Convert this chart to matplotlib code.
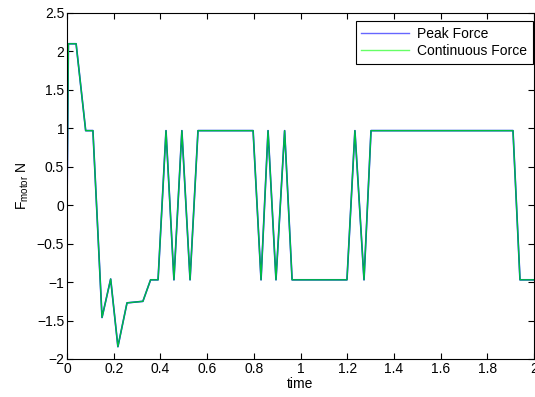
import numpy as np
import matplotlib
matplotlib.use("Agg")
import matplotlib.pyplot as plt

plt.rcParams["font.family"] = ["Liberation Sans", "DejaVu Sans"]
plt.rcParams["mathtext.fontset"] = "custom"
plt.rcParams["mathtext.rm"] = "Liberation Sans"
plt.rcParams["mathtext.it"] = "Liberation Sans:italic"

# time samples and force values
time = [0.0, 0.006, 0.039, 0.080, 0.111, 0.150, 0.187, 0.218, 0.257, 0.325,
        0.358, 0.390, 0.424, 0.458, 0.492, 0.527, 0.561, 0.797, 0.831, 0.861,
        0.895, 0.932, 0.964, 1.199, 1.233, 1.272, 1.302, 1.910, 1.940, 2.0]
peak_force = [0.0, 2.1, 2.1, 0.97, 0.97, -1.46, -0.96, -1.84, -1.27, -1.25,
              -0.97, -0.97, 0.97, -0.97, 0.97, -0.97, 0.97, 0.97, -0.97, 0.97,
              -0.97, 0.97, -0.97, -0.97, 0.97, -0.97, 0.97, 0.97, -0.97, -0.97]
continuous_force = list(peak_force)

xticks = [0, 0.2, 0.4, 0.6, 0.8, 1, 1.2, 1.4, 1.6, 1.8, 2]
xlabels = ["0", "0.2", "0.4", "0.6", "0.8", "1", "1.2", "1.4", "1.6", "1.8", "2"]
yticks = [-2, -1.5, -1, -0.5, 0, 0.5, 1, 1.5, 2, 2.5]
ylabels = ["\u22122", "\u22121.5", "\u22121", "\u22120.5", "0", "0.5", "1", "1.5", "2", "2.5"]

fig = plt.figure(figsize=(5.35, 3.97), dpi=100)
ax = fig.add_axes([67 / 535, 1 - 359 / 397, 467 / 535, 346 / 397])

ax.plot(time, peak_force, color="#0000ff", lw=1.2, label="Peak Force")
ax.plot(time, continuous_force, color="#00ff00", lw=1.0, alpha=0.75,
        label="Continuous Force")

ax.set_xlim(0, 2)
ax.set_ylim(-2, 2.5)
ax.set_xticks(xticks)
ax.set_xticklabels(xlabels)
ax.set_yticks(yticks)
ax.set_yticklabels(ylabels)
ax.tick_params(direction="in", top=True, right=True, length=4, width=0.8,
               labelsize=10, pad=2)
for s in ax.spines.values():
    s.set_linewidth(0.8)

ax.set_xlabel("time", fontsize=10, labelpad=1)
ax.set_ylabel(r"F$_{\rm motor}$ N", fontsize=10, labelpad=4)

leg = ax.legend(loc="upper right", bbox_to_anchor=(0.997, 0.977), fontsize=10,
                fancybox=False, framealpha=1, edgecolor="black",
                handlelength=3.4, borderaxespad=0, borderpad=0.4,
                labelspacing=0.25, handletextpad=0.6)
leg.get_frame().set_linewidth(0.8)
for line in leg.get_lines():
    line.set_alpha(0.6)
    line.set_linewidth(1.0)

fig.savefig("out.png", dpi=100)
